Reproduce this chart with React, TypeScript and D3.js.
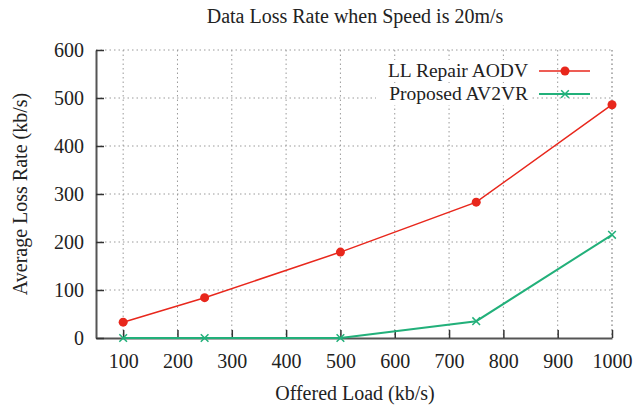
import React, { useRef, useEffect } from "react";
import * as d3 from "d3";

const loads = [100, 250, 500, 750, 1000];
const llRepair = [33, 84, 179, 283, 486];
const proposed = [0, 0, 0, 35, 215];
const xTicks = [100, 200, 300, 400, 500, 600, 700, 800, 900, 1000];
const yTicks = [0, 100, 200, 300, 400, 500, 600];
const seriesNames = ["LL Repair AODV", "Proposed AV2VR"];
const seriesColors = ["#e8271c", "#22b07a"];

const W = 635;
const H = 409;
const FONT = "'Liberation Serif', serif";

const App = () => {
  const ref = useRef<SVGSVGElement | null>(null);

  useEffect(() => {
    if (!ref.current) return;
    const svg = d3.select(ref.current);
    svg.selectAll("*").remove();

    const left = 96, right = 612, top = 50, bottom = 338;
    const x = d3.scaleLinear().domain([50, 1000]).range([left, right]);
    const y = d3.scaleLinear().domain([0, 600]).range([bottom, top]);

    // grid
    const grid = svg.append("g").attr("stroke", "#9a9a9a").attr("stroke-width", 1).attr("stroke-dasharray", "1.5,3");
    xTicks.forEach((t) => {
      grid.append("line").attr("x1", x(t)).attr("x2", x(t)).attr("y1", top).attr("y2", bottom);
    });
    yTicks.filter((t) => t > 0).forEach((t) => {
      grid.append("line").attr("x1", left).attr("x2", right).attr("y1", y(t)).attr("y2", y(t));
    });
    grid.append("line").attr("x1", right).attr("x2", right).attr("y1", top).attr("y2", bottom);

    // axes
    const xAxis = svg
      .append("g")
      .attr("transform", `translate(0,${bottom})`)
      .call(d3.axisBottom(x).tickValues(xTicks).tickFormat(d3.format("d")).tickSizeInner(-8).tickSizeOuter(0).tickPadding(16));
    const yAxis = svg
      .append("g")
      .attr("transform", `translate(${left},0)`)
      .call(d3.axisLeft(y).tickValues(yTicks).tickFormat(d3.format("d")).tickSizeInner(-8).tickSizeOuter(0).tickPadding(12));
    [xAxis, yAxis].forEach((a) => {
      a.select(".domain").attr("stroke", "#555").attr("stroke-width", 2);
      a.selectAll(".tick line").attr("stroke", "#333").attr("stroke-width", 1.5);
      a.selectAll("text").attr("font-family", FONT).attr("font-size", 20).attr("fill", "#222");
    });

    // lines
    const line = d3
      .line<number>()
      .x((_, i) => x(loads[i]))
      .y((d) => y(d));

    svg.append("path").datum(llRepair).attr("d", line).attr("fill", "none")
      .attr("stroke", seriesColors[0]).attr("stroke-width", 1.5);
    svg.selectAll(".dotA").data(llRepair).enter().append("circle")
      .attr("cx", (_, i) => x(loads[i])).attr("cy", (d) => y(d)).attr("r", 4.5)
      .attr("fill", seriesColors[0]);

    svg.append("path").datum(proposed).attr("d", line).attr("fill", "none")
      .attr("stroke", seriesColors[1]).attr("stroke-width", 2);
    const cross = d3.symbol().type(d3.symbolX).size(40);
    svg.selectAll(".dotB").data(proposed).enter().append("path")
      .attr("d", cross)
      .attr("transform", (d, i) => `translate(${x(loads[i])},${y(d)})`)
      .attr("fill", "none").attr("stroke", seriesColors[1]).attr("stroke-width", 1.5);

    // legend
    const lg = svg.append("g");
    seriesNames.forEach((name, i) => {
      const ly = 71 + i * 23;
      lg.append("rect").attr("x", 376).attr("y", ly - 11).attr("width", 154).attr("height", 22).attr("fill", "#fff");
      lg.append("text").attr("x", 528).attr("y", ly + 6).attr("text-anchor", "end")
        .attr("font-family", FONT).attr("font-size", 19.5).attr("fill", "#222").text(name);
      lg.append("line").attr("x1", 539).attr("x2", 590).attr("y1", ly).attr("y2", ly)
        .attr("stroke", seriesColors[i]).attr("stroke-width", i === 0 ? 1.5 : 2);
      if (i === 0) {
        lg.append("circle").attr("cx", 565).attr("cy", ly).attr("r", 4.5).attr("fill", seriesColors[0]);
      } else {
        lg.append("path").attr("d", cross).attr("transform", `translate(565,${ly})`)
          .attr("fill", "none").attr("stroke", seriesColors[1]).attr("stroke-width", 1.5);
      }
    });

    // titles
    svg.append("text").attr("x", 355).attr("y", 23).attr("text-anchor", "middle")
      .attr("font-family", FONT).attr("font-size", 20).attr("fill", "#222")
      .text("Data Loss Rate when Speed is 20m/s");
    svg.append("text").attr("x", 355).attr("y", 400).attr("text-anchor", "middle")
      .attr("font-family", FONT).attr("font-size", 20).attr("fill", "#222")
      .text("Offered Load (kb/s)");
    svg.append("text").attr("transform", `translate(27,${(top + bottom) / 2}) rotate(-90)`)
      .attr("text-anchor", "middle")
      .attr("font-family", FONT).attr("font-size", 20).attr("fill", "#222")
      .text("Average Loss Rate (kb/s)");
  }, []);

  return (
    <svg
      ref={ref}
      width={W}
      height={H}
      viewBox={`0 0 ${W} ${H}`}
      style={{ position: "absolute", left: 0, top: 0, background: "#fff" }}
    />
  );
};

export default App;
